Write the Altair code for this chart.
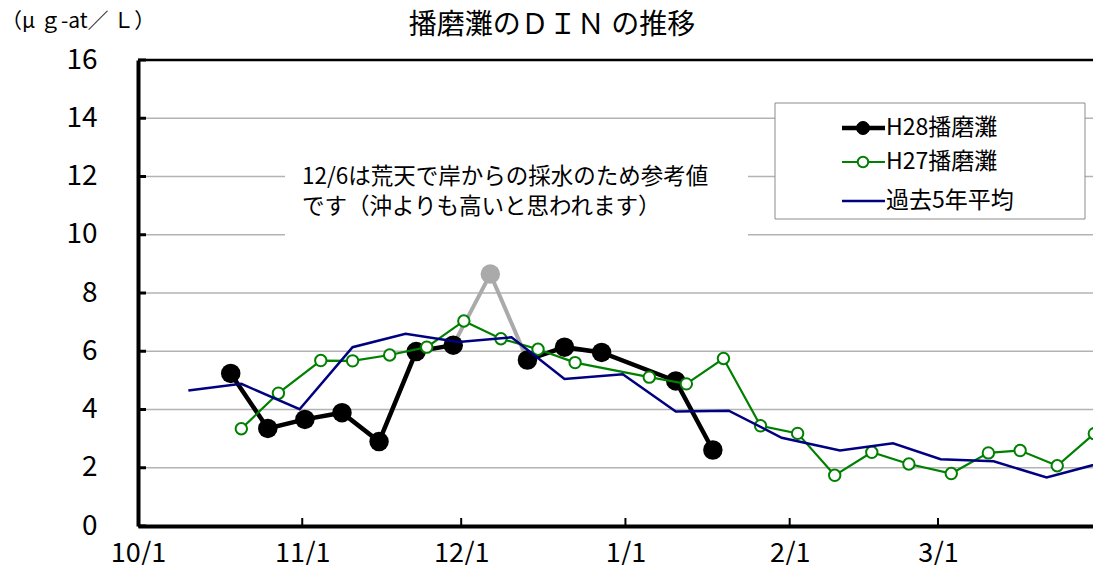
import altair as alt
import pandas as pd

# ---------------- data ----------------
h28_dates = ["2016-10-18", "2016-10-25", "2016-11-01", "2016-11-08", "2016-11-15",
             "2016-11-22", "2016-11-29", "2016-12-13", "2016-12-20", "2016-12-27",
             "2017-01-10", "2017-01-17"]
h28_values = [5.24, 3.35, 3.66, 3.89, 2.90, 5.99, 6.21, 5.70, 6.14, 5.96, 4.98, 2.61]
h28_segment = [1, 1, 1, 1, 1, 1, 1, 2, 2, 2, 2, 2]

ref_date = "2016-12-06"   # 12/6 reference value (shore sampling)
ref_value = 8.65

h27_dates = ["2016-10-20", "2016-10-27", "2016-11-04", "2016-11-10", "2016-11-17",
             "2016-11-24", "2016-12-01", "2016-12-08", "2016-12-15", "2016-12-22",
             "2017-01-05", "2017-01-12", "2017-01-19", "2017-01-26", "2017-02-02",
             "2017-02-09", "2017-02-16", "2017-02-23", "2017-03-03", "2017-03-10",
             "2017-03-16", "2017-03-23", "2017-03-30"]
h27_values = [3.34, 4.56, 5.68, 5.67, 5.87, 6.14, 7.04, 6.43, 6.07, 5.61,
              5.11, 4.88, 5.75, 3.44, 3.18, 1.74, 2.53, 2.13, 1.80, 2.51,
              2.59, 2.07, 3.17]

avg_dates = ["2016-10-10", "2016-10-20", "2016-10-31", "2016-11-10", "2016-11-20",
             "2016-11-30", "2016-12-10", "2016-12-20", "2016-12-31", "2017-01-10",
             "2017-01-20", "2017-01-30", "2017-02-10", "2017-02-20", "2017-03-01",
             "2017-03-11", "2017-03-21", "2017-04-01"]
avg_values = [4.65, 4.88, 4.01, 6.14, 6.60, 6.32, 6.48, 5.05, 5.21, 3.93,
              3.96, 3.03, 2.59, 2.84, 2.29, 2.22, 1.67, 2.20]

y_ticks = [0, 2, 4, 6, 8, 10, 12, 14, 16]
x_tick_dates = ["2016-10-01", "2016-11-01", "2016-12-01", "2017-01-01", "2017-02-01", "2017-03-01"]

legend_labels = ["H28播磨灘", "H27播磨灘", "過去5年平均"]
title_text = "播磨灘のＤＩＮ の推移"
unit_text = "（μ ｇ-at／ Ｌ）"
note_lines = ["12/6は荒天で岸からの採水のため参考値", "です（沖よりも高いと思われます）"]

# ---------------- tables ----------------
noon = pd.Timedelta(hours=12)

def to_dt(lst, shift=True):
    s = pd.to_datetime(pd.Series(lst))
    return s + noon if shift else s

h28_df = pd.DataFrame({"date": to_dt(h28_dates), "value": h28_values, "seg": h28_segment})
gap_idx = h28_segment.index(2)
ref_line_df = pd.DataFrame({
    "date": to_dt([h28_dates[gap_idx - 1], ref_date, h28_dates[gap_idx]]),
    "value": [h28_values[gap_idx - 1], ref_value, h28_values[gap_idx]],
})
ref_pt_df = pd.DataFrame({"date": to_dt([ref_date]), "value": [ref_value]})
h27_df = pd.DataFrame({"date": to_dt(h27_dates), "value": h27_values})
avg_df = pd.DataFrame({"date": to_dt(avg_dates), "value": avg_values})
grid_df = pd.DataFrame({"value": y_ticks[1:-1]})
top_df = pd.DataFrame({"value": y_ticks[-1:]})
ytick_df = pd.DataFrame({"value": y_ticks})
xtick_df = pd.DataFrame({"date": to_dt(x_tick_dates[1:], shift=False)})

W, H = 955, 466
NUM_FONT = "Liberation Sans Narrow, Noto Sans CJK JP"
JP_FONT = "Noto Sans CJK JP"

x_scale = alt.Scale(domain=[alt.DateTime(year=2016, month=10, date=1),
                            alt.DateTime(year=2017, month=3, date=30, hours=6)])
y_scale = alt.Scale(domain=[0, 16], nice=False)

x_axis = alt.Axis(
    values=[alt.DateTime(year=int(d[:4]), month=int(d[5:7]), date=int(d[8:])) for d in x_tick_dates],
    format="%-m/%-d", grid=False, ticks=False, domainColor="black", domainWidth=4,
    labelFont=NUM_FONT, labelFontSize=27, labelColor="black", labelPadding=14,
    title=None, labelFlush=False, labelOverlap=False,
)
y_axis = alt.Axis(
    values=y_ticks, grid=False, ticks=False, domainColor="black", domainWidth=4,
    labelFont=NUM_FONT, labelFontSize=28, labelColor="black", labelPadding=41,
    title=None,
)

X = alt.X("date:T", scale=x_scale, axis=x_axis)
Y = alt.Y("value:Q", scale=y_scale, axis=y_axis)

grid = alt.Chart(grid_df).mark_rule(color="#b3b3b3", strokeWidth=1.5).encode(
    y=Y, x=alt.value(0), x2=alt.value(W))
top = alt.Chart(top_df).mark_rule(color="black", strokeWidth=2.5).encode(
    y=Y, x=alt.value(0), x2=alt.value(W))
yticks = alt.Chart(ytick_df).mark_rule(color="black", strokeWidth=3).encode(
    y=Y, x=alt.value(0), x2=alt.value(8))
xticks = alt.Chart(xtick_df).mark_rule(color="black", strokeWidth=2).encode(
    x=X, y=alt.value(H), y2=alt.value(H - 8))

# annotation box + text (two lines)
note_box = alt.Chart(pd.DataFrame({"t": [note_lines[0]]})).mark_rect(
    color="white").encode(x=alt.value(147), x2=alt.value(610), y=alt.value(90), y2=alt.value(178))
note_layers = []
for i, line in enumerate(note_lines):
    note_layers.append(alt.Chart(pd.DataFrame({"t": [line]})).mark_text(
        align="left", baseline="middle", font=JP_FONT, fontSize=22.5, color="black"
    ).encode(x=alt.value(164), y=alt.value(117 + 30 * i), text="t:N"))

ref_line = alt.Chart(ref_line_df).mark_line(color="#aaaaaa", strokeWidth=4, clip=True).encode(x=X, y=Y)
ref_pt = alt.Chart(ref_pt_df).mark_circle(color="#aaaaaa", size=380, opacity=1).encode(x=X, y=Y)

h28_line = alt.Chart(h28_df).mark_line(color="black", strokeWidth=4.5).encode(
    x=X, y=Y, detail="seg:N")
h28_pts = alt.Chart(h28_df).mark_circle(color="black", size=380, opacity=1).encode(x=X, y=Y)

h27_line = alt.Chart(h27_df).mark_line(color="#008000", strokeWidth=2.2, clip=True).encode(x=X, y=Y)
h27_pts = alt.Chart(h27_df).mark_point(shape="circle", filled=False, fill="white", fillOpacity=1,
                                       stroke="#008000", strokeWidth=2, size=130, opacity=1
                                       ).encode(x=X, y=Y)

avg_line = alt.Chart(avg_df).mark_line(color="#000080", strokeWidth=2.5, clip=True).encode(x=X, y=Y)

# legend
leg_rows = [68, 102, 141]
leg_box = alt.Chart(pd.DataFrame({"t": [legend_labels[0]]})).mark_rect(
    fill="white", stroke="#8c8c8c", strokeWidth=1).encode(
    x=alt.value(637), x2=alt.value(947), y=alt.value(43), y2=alt.value(159))
leg_layers = [leg_box]
styles = [("black", 4.5, "black", "black", 170, 1),
          ("#008000", 2.2, "#008000", "white", 110, 2),
          ("#000080", 2.5, None, None, 0, 0)]
for lab, ry, (lc, lw, mc, mf, ms, msw) in zip(legend_labels, leg_rows, styles):
    d = pd.DataFrame({"label": [lab]})
    leg_layers.append(alt.Chart(d).mark_rule(color=lc, strokeWidth=lw).encode(
        x=alt.value(704), x2=alt.value(747), y=alt.value(ry)))
    if mc:
        leg_layers.append(alt.Chart(d).mark_point(shape="circle", filled=False, fill=mf, fillOpacity=1,
                                                  stroke=mc, strokeWidth=msw, size=ms, opacity=1).encode(
            x=alt.value(725), y=alt.value(ry)))
    leg_layers.append(alt.Chart(d).mark_text(
        align="left", baseline="middle", font=NUM_FONT, fontSize=23, color="black").encode(
        x=alt.value(748), y=alt.value(ry), text="label:N"))

title = alt.Chart(pd.DataFrame({"t": [title_text]})).mark_text(
    align="center", baseline="middle", font=JP_FONT, fontSize=28, color="black").encode(
    x=alt.value(552 - 138), y=alt.value(26 - 60), text="t:N")
unit = alt.Chart(pd.DataFrame({"t": [unit_text]})).mark_text(
    align="left", baseline="middle", font=JP_FONT, fontSize=21, color="black").encode(
    x=alt.value(1 - 138), y=alt.value(22 - 60), text="t:N")

chart = alt.layer(
    grid, note_box, *note_layers, top, yticks, xticks,
    ref_line, h28_line, h28_pts, ref_pt,
    h27_line, h27_pts, avg_line,
    *leg_layers, title, unit,
).properties(
    width=W, height=H,
    autosize=alt.AutoSizeParams(type="none"),
    padding={"left": 130, "top": 52, "right": 0, "bottom": 39},
).configure_view(stroke=None).configure(background="white")

chart.save("out.html", embed_options={"renderer": "svg", "actions": False})
